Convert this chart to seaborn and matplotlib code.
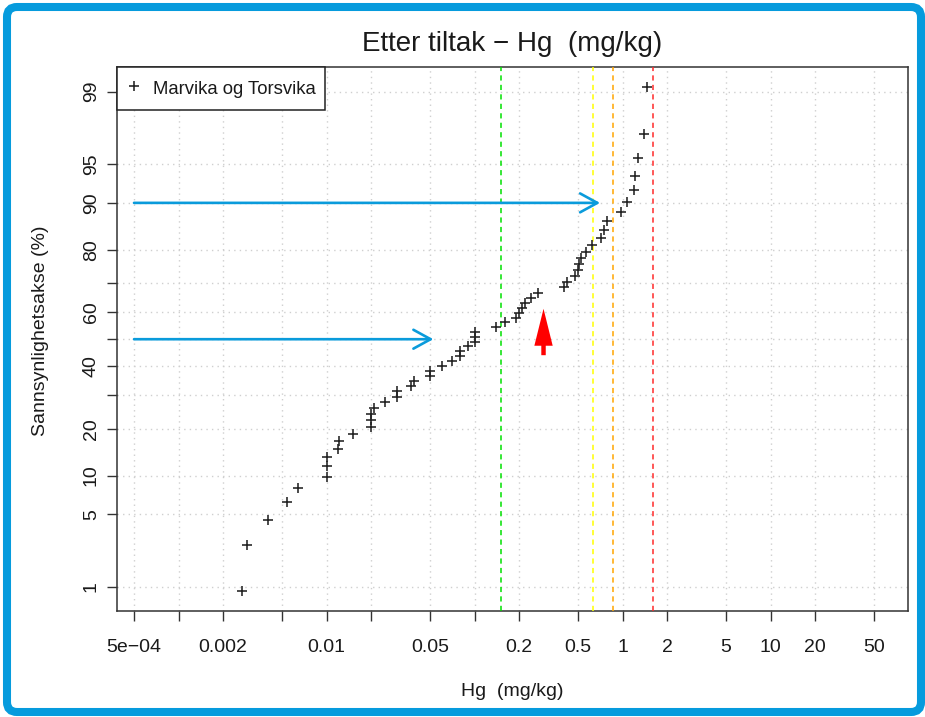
import numpy as np
import pandas as pd
import matplotlib
matplotlib.use("Agg")
import matplotlib.pyplot as plt
from matplotlib.patches import FancyBboxPatch, FancyArrowPatch
from matplotlib.ticker import NullLocator
from matplotlib.transforms import IdentityTransform
from statistics import NormalDist
import seaborn as sns

# Hg concentrations (mg/kg), sorted, Marvika og Torsvika after remediation
hg_conc = [0.0027, 0.0029, 0.0040, 0.0054, 0.0064, 0.010, 0.010, 0.010,
           0.012, 0.0122, 0.015, 0.020, 0.020, 0.020, 0.021, 0.025,
           0.030, 0.030, 0.037, 0.039, 0.050, 0.050, 0.060, 0.070,
           0.080, 0.080, 0.091, 0.100, 0.100, 0.100, 0.140, 0.160,
           0.190, 0.200, 0.210, 0.220, 0.240, 0.270, 0.400, 0.420,
           0.480, 0.500, 0.510, 0.520, 0.570, 0.620, 0.720, 0.750,
           0.780, 0.970, 1.07, 1.20, 1.22, 1.27, 1.40, 1.46]
series_name = "Marvika og Torsvika"

# Axis ticks
x_ticks = [5e-4, 1e-3, 2e-3, 5e-3, 0.01, 0.02, 0.05, 0.1, 0.2, 0.5,
           1, 2, 5, 10, 20, 50]
x_tick_labels = ["5e\u221204", "", "0.002", "", "0.01", "", "0.05", "",
                 "0.2", "0.5", "1", "2", "5", "10", "20", "50"]
prob_ticks = [1, 5, 10, 20, 30, 40, 50, 60, 70, 80, 90, 95, 99]
prob_tick_labels = ["1", "5", "10", "20", "", "40", "", "60", "", "80",
                    "90", "95", "99"]

# Class limits (mg/kg) shown as dashed verticals
limit_values = [0.15, 0.63, 0.86, 1.6]
limit_colors = ["#00E000", "#FFFF00", "#FFA500", "#FF2A2A"]

# Reading guides: percentile level -> concentration
guide_levels = [90, 50]
guide_values = [0.705, 0.0527]
guide_start = 5e-4

# Highlight arrow
highlight_x = 0.2925
highlight_from = 43.0
highlight_to = 62.25

n = len(hg_conc)
ranks = np.arange(1, n + 1)
df = pd.DataFrame({
    "Hg": hg_conc,
    # Hazen plotting positions in percent
    "prob": (ranks - 0.5) / n * 100,
})

_nd = NormalDist()
_ppf = np.vectorize(_nd.inv_cdf, otypes=[float])
_cdf = np.vectorize(_nd.cdf, otypes=[float])


def prob_forward(p):
    p = np.clip(np.asarray(p, dtype=float) / 100.0, 1e-12, 1 - 1e-12)
    return _ppf(p)


def prob_inverse(z):
    return _cdf(np.asarray(z, dtype=float)) * 100.0


sns.set_theme(style="white")
plt.rcParams["font.family"] = ["Liberation Sans", "DejaVu Sans"]
plt.rcParams["text.color"] = "#1a1a1a"

W, H = 925, 717
fig = plt.figure(figsize=(W / 100, H / 100), dpi=100)
fig.patch.set_facecolor("white")
left, right, top, bottom = 116.7, 908.0, 67.3, 610.7
ax = fig.add_axes([left / W, 1 - bottom / H, (right - left) / W,
                   (bottom - top) / H])
ax.set_facecolor("white")

sns.scatterplot(data=df, x="Hg", y="prob", marker="+", color="#222222",
                s=48, linewidth=1.15, label=series_name, ax=ax, zorder=4)

ax.set_xscale("log")
ax.set_yscale("function", functions=(prob_forward, prob_inverse))
ax.set_xlim(3.82e-4, 84.9)
ax.set_ylim(prob_inverse(-2.552), prob_inverse(2.556))

ax.set_xticks(x_ticks, x_tick_labels)
ax.set_yticks(prob_ticks, prob_tick_labels, rotation=90, va="center")
ax.xaxis.set_minor_locator(NullLocator())
ax.yaxis.set_minor_locator(NullLocator())
ax.tick_params(axis="both", which="major", direction="out", length=7.2,
               width=1.0, color="#333333", labelsize=14,
               labelcolor="#1a1a1a", bottom=True, left=True)
ax.tick_params(axis="x", pad=13)
ax.tick_params(axis="y", pad=5.0)
ax.set_xlabel("")
ax.set_ylabel("")

ax.set_axisbelow(True)
ax.grid(True, which="major", color="#CFCFCF", linestyle=(0, (1, 3)),
        linewidth=1.0)
for sp in ax.spines.values():
    sp.set_color("#333333")
    sp.set_linewidth(1.1)

# Class limit lines
for xv, col in zip(limit_values, limit_colors):
    ax.axvline(xv, color=col, linestyle=(0, (3.4, 2.8)), linewidth=1.1,
               zorder=3)

# Blue reading guides
for lvl, xv in zip(guide_levels, guide_values):
    ax.annotate("", xy=(xv, lvl), xytext=(guide_start, lvl),
                arrowprops=dict(arrowstyle="->,head_length=0.62,head_width=0.34",
                                color="#0A9BDB", lw=1.9, shrinkA=0, shrinkB=0,
                                mutation_scale=20),
                zorder=5)

# Red highlight arrow
red_arrow = FancyArrowPatch(
    (highlight_x, highlight_from), (highlight_x, highlight_to),
    arrowstyle="simple,head_length=2.66,head_width=1.32,tail_width=0.32",
    mutation_scale=10, color="#FF0000", lw=0, zorder=6)
ax.add_patch(red_arrow)

leg = ax.legend(loc="upper left", bbox_to_anchor=(0, 1), borderaxespad=0,
                frameon=True, fancybox=False, edgecolor="#222222",
                framealpha=1, fontsize=13.3, handlelength=0.9,
                handleheight=1.6, handletextpad=0.55, borderpad=0.5)
leg.get_frame().set_linewidth(1.1)

fig.text((left + right) / 2 / W, 1 - 44 / H, "Etter tiltak \u2212 Hg  (mg/kg)",
         ha="center", va="center", fontsize=20)
fig.text((left + right) / 2 / W, 1 - 692 / H, "Hg  (mg/kg)",
         ha="center", va="center", fontsize=14)
fig.text(41 / W, 1 - 331 / H, "Sannsynlighetsakse (%)", rotation=90,
         ha="center", va="center", fontsize=14)

# Blue frame around the figure
frame = FancyBboxPatch((7, 5), 921 - 7, 710 - 5,
                       boxstyle="round,pad=0,rounding_size=10",
                       transform=IdentityTransform(), fill=False,
                       edgecolor="#069BDD", linewidth=5.8)
fig.add_artist(frame)

fig.savefig("out.png", dpi=100, facecolor="white")
